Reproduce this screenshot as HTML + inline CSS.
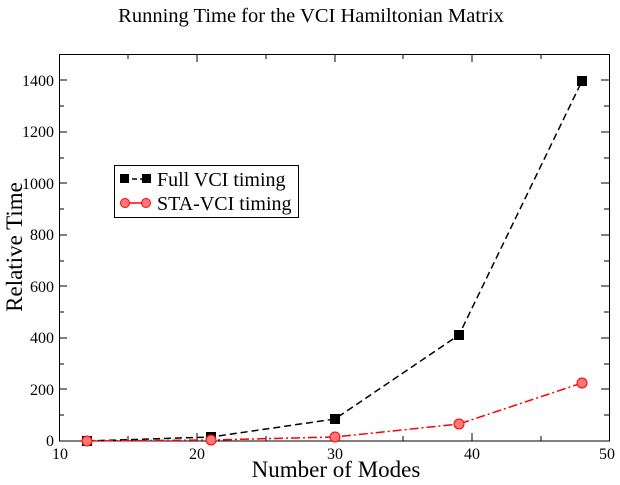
<!DOCTYPE html>
<html><head><style>body{margin:0;background:#fff}</style></head><body>
<svg width="620" height="480" xmlns="http://www.w3.org/2000/svg" font-family="Liberation Serif, serif">
<rect width="620" height="480" fill="#fff"/>
<text x="311" y="22" font-size="20.5" text-anchor="middle">Running Time for the VCI Hamiltonian Matrix</text>
<rect x="59.5" y="54.5" width="550" height="386.5" fill="none" stroke="#000" stroke-width="1"/>
<g stroke="#000" stroke-width="1">
<path d="M128,441v-5M128,54v5M197,441v-5M197,54v5M266,441v-5M266,54v5M335,441v-8M335,54v8M403,441v-5M403,54v5M472,441v-8M472,54v8M541,441v-5M541,54v5M197,441v-8M197,54v8"/>
<path d="M59,415h5M609,415h-5M59,389h8M609,389h-8M59,364h5M609,364h-5M59,338h8M609,338h-8M59,312h5M609,312h-5M59,286h8M609,286h-8M59,261h5M609,261h-5M59,235h8M609,235h-8M59,209h5M609,209h-5M59,183h8M609,183h-8M59,158h5M609,158h-5M59,132h8M609,132h-8M59,106h5M609,106h-5M59,80h8M609,80h-8"/>
</g>
<g font-size="16" text-anchor="end">
<text x="54" y="446">0</text><text x="54" y="395">200</text><text x="54" y="343">400</text><text x="54" y="292">600</text><text x="54" y="240">800</text><text x="54" y="189">1000</text><text x="54" y="137">1200</text><text x="54" y="86">1400</text>
</g>
<g font-size="16" text-anchor="middle">
<text x="60" y="459">10</text><text x="197" y="459">20</text><text x="335" y="459">30</text><text x="472" y="459">40</text><text x="607" y="459">50</text>
</g>
<text x="336" y="477" font-size="23" text-anchor="middle">Number of Modes</text>
<text transform="translate(22,247) rotate(-90)" font-size="23" text-anchor="middle">Relative Time</text>
<polyline points="87,441 211,437 335,419 459,335 582,81" fill="none" stroke="#000" stroke-width="1.5" stroke-dasharray="7,4"/>
<polyline points="87,441 211,440 335,437 459,424 582,383" fill="none" stroke="#f00" stroke-width="1.5" stroke-dasharray="9,3,2,3"/>
<g fill="#000"><rect x="82" y="436" width="10" height="10"/><rect x="206" y="432" width="10" height="10"/><rect x="330" y="414" width="10" height="10"/><rect x="454" y="330" width="10" height="10"/><rect x="577" y="76" width="10" height="10"/></g>
<g fill="#f77" stroke="#f00" stroke-width="1"><circle cx="87" cy="441" r="5"/><circle cx="211" cy="440" r="5"/><circle cx="335" cy="437" r="5"/><circle cx="459" cy="424" r="5"/><circle cx="582" cy="383" r="5"/></g>
<rect x="114.5" y="165.5" width="184" height="52" fill="#fff" stroke="#000"/>
<line x1="124" y1="179" x2="146" y2="179" stroke="#000" stroke-width="1.5" stroke-dasharray="5,3"/>
<rect x="120" y="174" width="9" height="9"/><rect x="142" y="174" width="9" height="9"/>
<text x="157" y="186" font-size="20">Full VCI timing</text>
<line x1="125" y1="203" x2="146" y2="203" stroke="#f00" stroke-width="1.5"/>
<circle cx="125" cy="203" r="4.5" fill="#f77" stroke="#f00"/><circle cx="146" cy="203" r="4.5" fill="#f77" stroke="#f00"/>
<text x="157" y="210" font-size="20">STA-VCI timing</text>
</svg>
</body></html>
